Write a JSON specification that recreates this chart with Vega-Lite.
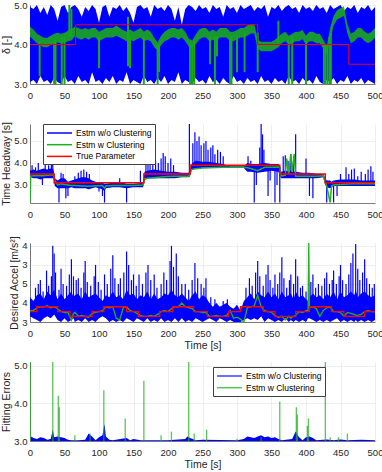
{
"$schema":"https://vega.github.io/schema/vega-lite/v6.json",
"autosize":{"type":"pad"},
"padding":{"left":1,"top":0,"right":0,"bottom":0},
"spacing":40,
"bounds":"flush",
"config":{
 "font":"Liberation Sans",
 "view":{"stroke":null},
 "axis":{"labelFontSize":9.5,"labelColor":"#262626","titleFontSize":10.5,"titleFontWeight":"normal","titleColor":"#262626","gridColor":"#e3e3e3","gridWidth":0.6,"domainColor":"#262626","domainWidth":0.6,"ticks":false,"labelPadding":3,"titlePadding":2,"labelOverlap":false},
 "axisX":{"labelOverlap":false,"labelFlush":false,"tickCount":20},
 "legend":{"orient":"none","title":null,"symbolType":"M-1,0H4","symbolSize":100,"symbolStrokeWidth":1.5,"strokeColor":"#404040","fillColor":"#ffffff","padding":3,"labelFontSize":8.5,"labelColor":"#000000","rowPadding":0.7,"labelOffset":18}
},
"resolve":{"scale":{"stroke":"independent"},"legend":{"stroke":"independent"}},
"datasets":{
"p1":[
{"t":0,"lo":3.05,"hi":4.95,"gl":4.2,"gh":4.45},{"t":5,"lo":3.1,"hi":4.9,"gl":4.12,"gh":4.38},{"t":10,"lo":3.0,"hi":5.0,"gl":4.03,"gh":4.27},{"t":15,"lo":3.2,"hi":4.8,"gl":3.98,"gh":4.22},{"t":20,"lo":3.05,"hi":4.95,"gl":3.93,"gh":4.17},{"t":25,"lo":3.1,"hi":4.75,"gl":3.93,"gh":4.17},{"t":30,"lo":3.0,"hi":5.0,"gl":3.98,"gh":4.22},{"t":35,"lo":3.15,"hi":4.9,"gl":4.03,"gh":4.27},{"t":40,"lo":3.05,"hi":4.6,"gl":4.05,"gh":4.3},{"t":45,"lo":3.0,"hi":4.95,"gl":4.03,"gh":4.27},{"t":50,"lo":3.2,"hi":5.0,"gl":4.05,"gh":4.3},{"t":55,"lo":3.05,"hi":4.8,"gl":4.08,"gh":4.35},{"t":60,"lo":3.1,"hi":4.95,"gl":4.1,"gh":4.4},{"t":65,"lo":3.0,"hi":5.0,"gl":4.2,"gh":4.45},{"t":70,"lo":3.2,"hi":4.9,"gl":4.15,"gh":4.42},{"t":75,"lo":3.05,"hi":4.7,"gl":4.12,"gh":4.38},{"t":80,"lo":3.1,"hi":4.95,"gl":4.18,"gh":4.42},{"t":85,"lo":3.0,"hi":4.85,"gl":4.12,"gh":4.38},{"t":90,"lo":3.3,"hi":5.0,"gl":4.18,"gh":4.42},{"t":95,"lo":3.05,"hi":4.9,"gl":4.18,"gh":4.42},{"t":100,"lo":3.1,"hi":4.55,"gl":4.08,"gh":4.32},{"t":105,"lo":3.0,"hi":4.95,"gl":4.13,"gh":4.37},{"t":110,"lo":3.15,"hi":5.0,"gl":4.18,"gh":4.42},{"t":115,"lo":3.05,"hi":4.7,"gl":4.18,"gh":4.42},{"t":120,"lo":3.2,"hi":4.95,"gl":4.18,"gh":4.42},{"t":125,"lo":3.0,"hi":4.9,"gl":4.22,"gh":4.48},{"t":130,"lo":3.1,"hi":5.0,"gl":4.18,"gh":4.42},{"t":135,"lo":3.05,"hi":4.85,"gl":4.13,"gh":4.37},{"t":140,"lo":3.3,"hi":4.95,"gl":4.08,"gh":4.32},{"t":145,"lo":3.0,"hi":4.8,"gl":4.12,"gh":4.38},{"t":150,"lo":3.1,"hi":4.55,"gl":4.08,"gh":4.32},{"t":155,"lo":3.05,"hi":4.95,"gl":4.13,"gh":4.37},{"t":160,"lo":3.0,"hi":5.0,"gl":4.18,"gh":4.42},{"t":165,"lo":3.2,"hi":4.9,"gl":4.08,"gh":4.32},{"t":170,"lo":3.05,"hi":4.95,"gl":4.12,"gh":4.38},{"t":175,"lo":3.1,"hi":4.7,"gl":4.08,"gh":4.32},{"t":180,"lo":3.0,"hi":5.0,"gl":3.93,"gh":4.17},{"t":185,"lo":3.15,"hi":4.9,"gl":3.85,"gh":4.05},{"t":190,"lo":3.05,"hi":4.95,"gl":3.98,"gh":4.22},{"t":195,"lo":3.2,"hi":4.85,"gl":4.08,"gh":4.32},{"t":200,"lo":3.0,"hi":5.0,"gl":4.12,"gh":4.38},{"t":205,"lo":3.1,"hi":4.9,"gl":4.18,"gh":4.42},{"t":210,"lo":3.05,"hi":4.6,"gl":4.18,"gh":4.42},{"t":215,"lo":3.3,"hi":4.95,"gl":4.12,"gh":4.38},{"t":220,"lo":3.0,"hi":4.5,"gl":4.18,"gh":4.42},{"t":225,"lo":3.1,"hi":4.9,"gl":4.08,"gh":4.32},{"t":230,"lo":3.05,"hi":5.0,"gl":3.95,"gh":4.15},{"t":235,"lo":3.0,"hi":4.95,"gl":3.9,"gh":4.1},{"t":240,"lo":3.15,"hi":4.85,"gl":4.0,"gh":4.25},{"t":245,"lo":3.05,"hi":5.0,"gl":4.12,"gh":4.38},{"t":250,"lo":3.1,"hi":4.9,"gl":4.18,"gh":4.42},{"t":255,"lo":3.0,"hi":4.95,"gl":4.18,"gh":4.42},{"t":260,"lo":3.2,"hi":4.8,"gl":4.08,"gh":4.32},{"t":265,"lo":3.05,"hi":5.0,"gl":4.12,"gh":4.38},{"t":270,"lo":3.1,"hi":4.9,"gl":4.08,"gh":4.32},{"t":275,"lo":3.0,"hi":4.95,"gl":4.18,"gh":4.42},{"t":280,"lo":3.15,"hi":4.7,"gl":4.18,"gh":4.42},{"t":285,"lo":3.05,"hi":5.0,"gl":4.18,"gh":4.42},{"t":290,"lo":3.0,"hi":4.9,"gl":4.08,"gh":4.32},{"t":295,"lo":3.2,"hi":4.95,"gl":4.08,"gh":4.32},{"t":300,"lo":3.05,"hi":4.8,"gl":4.13,"gh":4.37},{"t":305,"lo":3.1,"hi":5.0,"gl":4.18,"gh":4.42},{"t":310,"lo":3.0,"hi":4.9,"gl":4.18,"gh":4.42},{"t":315,"lo":3.15,"hi":4.95,"gl":4.22,"gh":4.48},{"t":320,"lo":3.05,"hi":5.0,"gl":4.28,"gh":4.52},{"t":325,"lo":3.1,"hi":4.85,"gl":4.28,"gh":4.52},{"t":330,"lo":3.0,"hi":4.95,"gl":3.9,"gh":4.12},{"t":335,"lo":3.2,"hi":4.9,"gl":3.83,"gh":4.07},{"t":340,"lo":3.05,"hi":5.0,"gl":3.83,"gh":4.07},{"t":345,"lo":3.1,"hi":4.7,"gl":3.83,"gh":4.07},{"t":350,"lo":3.0,"hi":4.95,"gl":3.83,"gh":4.07},{"t":355,"lo":3.15,"hi":4.9,"gl":3.88,"gh":4.12},{"t":360,"lo":3.05,"hi":5.0,"gl":3.93,"gh":4.2},{"t":365,"lo":3.1,"hi":4.85,"gl":4.03,"gh":4.27},{"t":370,"lo":3.0,"hi":4.95,"gl":4.08,"gh":4.32},{"t":375,"lo":3.2,"hi":5.0,"gl":4.0,"gh":4.22},{"t":380,"lo":3.05,"hi":4.9,"gl":4.03,"gh":4.27},{"t":385,"lo":3.1,"hi":4.95,"gl":4.08,"gh":4.32},{"t":390,"lo":3.0,"hi":4.8,"gl":4.08,"gh":4.32},{"t":395,"lo":3.15,"hi":5.0,"gl":4.13,"gh":4.37},{"t":400,"lo":3.05,"hi":4.9,"gl":4.0,"gh":4.22},{"t":405,"lo":3.1,"hi":4.95,"gl":4.08,"gh":4.32},{"t":410,"lo":3.0,"hi":4.85,"gl":4.08,"gh":4.32},{"t":415,"lo":3.2,"hi":5.0,"gl":4.03,"gh":4.27},{"t":420,"lo":3.05,"hi":4.9,"gl":4.03,"gh":4.27},{"t":425,"lo":3.0,"hi":4.95,"gl":3.9,"gh":4.12},{"t":430,"lo":3.1,"hi":4.8,"gl":3.75,"gh":3.95},{"t":435,"lo":3.05,"hi":5.0,"gl":4.1,"gh":4.42},{"t":440,"lo":3.15,"hi":4.9,"gl":4.48,"gh":4.72},{"t":445,"lo":3.0,"hi":4.95,"gl":4.63,"gh":4.87},{"t":450,"lo":3.1,"hi":5.0,"gl":4.68,"gh":4.92},{"t":455,"lo":3.05,"hi":4.85,"gl":4.73,"gh":4.97},{"t":460,"lo":3.2,"hi":4.95,"gl":4.28,"gh":4.52},{"t":465,"lo":3.0,"hi":4.9,"gl":4.03,"gh":4.27},{"t":470,"lo":3.1,"hi":5.0,"gl":4.08,"gh":4.32},{"t":475,"lo":3.05,"hi":4.8,"gl":4.18,"gh":4.42},{"t":480,"lo":3.15,"hi":4.95,"gl":4.18,"gh":4.42},{"t":485,"lo":3.0,"hi":4.9,"gl":4.08,"gh":4.32},{"t":490,"lo":3.1,"hi":5.0,"gl":4.03,"gh":4.27},{"t":495,"lo":3.05,"hi":4.85,"gl":4.08,"gh":4.32},{"t":500,"lo":3.0,"hi":4.95,"gl":4.18,"gh":4.42}
],
"d1":[{"t":14,"a":3.2,"b":4.1},{"t":35,"a":3.0,"b":4.1},{"t":37,"a":3.0,"b":4.1},{"t":46,"a":3.0,"b":4.2},{"t":50,"a":3.0,"b":4.2},{"t":57,"a":4.2,"b":5.0},{"t":60,"a":4.2,"b":4.9},{"t":100,"a":3.4,"b":4.2},{"t":142,"a":3.45,"b":4.7},{"t":145,"a":3.4,"b":4.2},{"t":165,"a":3.0,"b":4.2},{"t":185,"a":3.0,"b":4.0},{"t":187,"a":3.3,"b":4.0},{"t":232,"a":3.0,"b":4.0},{"t":235,"a":3.0,"b":4.0},{"t":238,"a":3.0,"b":4.1},{"t":261,"a":3.5,"b":4.2},{"t":268,"a":3.0,"b":4.2},{"t":271,"a":3.7,"b":4.2},{"t":290,"a":3.0,"b":4.2},{"t":292,"a":3.0,"b":4.2},{"t":300,"a":3.3,"b":4.2},{"t":311,"a":3.3,"b":4.3},{"t":330,"a":3.3,"b":4.3},{"t":360,"a":4.0,"b":4.6},{"t":375,"a":3.0,"b":4.1},{"t":380,"a":3.0,"b":4.2},{"t":400,"a":3.0,"b":4.1},{"t":426,"a":3.0,"b":4.0},{"t":428,"a":3.0,"b":4.0},{"t":431,"a":3.0,"b":4.0},{"t":434,"a":3.0,"b":4.2},{"t":436,"a":3.0,"b":4.3}],
"r1":[{"t":0,"v":4},{"t":66,"v":4.5},{"t":330,"v":4},{"t":462,"v":3.5},{"t":500,"v":3.5}],
"p2":[
{"t":0,"lo":3.3,"hi":3.7,"g":2.2},{"t":1,"lo":3.35,"hi":3.65,"g":3.4},{"t":5,"lo":3.3,"hi":3.7,"g":3.42},{"t":10,"lo":3.3,"hi":3.65,"g":3.43},{"t":15,"lo":3.25,"hi":3.7,"g":3.42},{"t":20,"lo":3.3,"hi":3.75,"g":3.42},{"t":25,"lo":3.3,"hi":3.7,"g":3.44},{"t":30,"lo":3.3,"hi":3.75,"g":3.45},{"t":34,"lo":3.3,"hi":3.7,"g":3.45},{"t":36,"lo":2.95,"hi":3.3,"g":3.2},{"t":40,"lo":2.85,"hi":3.2,"g":3.0},{"t":45,"lo":2.85,"hi":3.3,"g":3.05},{"t":50,"lo":2.85,"hi":3.3,"g":3.02},{"t":55,"lo":2.85,"hi":3.15,"g":3.0},{"t":60,"lo":2.9,"hi":3.2,"g":2.98},{"t":65,"lo":2.85,"hi":3.25,"g":2.97},{"t":70,"lo":2.85,"hi":3.3,"g":2.96},{"t":75,"lo":2.85,"hi":3.35,"g":2.95},{"t":80,"lo":2.85,"hi":3.35,"g":2.95},{"t":85,"lo":2.8,"hi":3.3,"g":2.94},{"t":90,"lo":2.85,"hi":3.2,"g":2.95},{"t":95,"lo":2.9,"hi":3.15,"g":2.96},{"t":100,"lo":2.85,"hi":3.1,"g":2.96},{"t":105,"lo":2.8,"hi":3.1,"g":2.97},{"t":108,"lo":2.7,"hi":3.05,"g":2.85},{"t":110,"lo":2.85,"hi":3.05,"g":2.95},{"t":120,"lo":2.9,"hi":3.1,"g":2.98},{"t":130,"lo":2.9,"hi":3.15,"g":2.98},{"t":140,"lo":2.85,"hi":3.05,"g":2.97},{"t":150,"lo":2.9,"hi":3.05,"g":2.98},{"t":164,"lo":2.9,"hi":3.1,"g":3.0},{"t":166,"lo":3.3,"hi":3.6,"g":3.25},{"t":170,"lo":3.3,"hi":3.65,"g":3.3},{"t":180,"lo":3.3,"hi":3.7,"g":3.33},{"t":190,"lo":3.3,"hi":3.65,"g":3.36},{"t":200,"lo":3.3,"hi":3.6,"g":3.38},{"t":210,"lo":3.3,"hi":3.6,"g":3.39},{"t":220,"lo":3.35,"hi":3.55,"g":3.4},{"t":230,"lo":3.35,"hi":3.55,"g":3.4},{"t":232,"lo":3.4,"hi":3.7,"g":3.5},{"t":234,"lo":3.7,"hi":3.95,"g":3.7},{"t":240,"lo":3.75,"hi":4.1,"g":3.74},{"t":250,"lo":3.78,"hi":4.05,"g":3.77},{"t":260,"lo":3.78,"hi":4.05,"g":3.78},{"t":270,"lo":3.78,"hi":4.0,"g":3.79},{"t":280,"lo":3.78,"hi":3.95,"g":3.8},{"t":290,"lo":3.78,"hi":3.85,"g":3.8},{"t":310,"lo":3.77,"hi":3.85,"g":3.8},{"t":315,"lo":3.6,"hi":4.0,"g":3.78},{"t":320,"lo":3.6,"hi":3.95,"g":3.75},{"t":330,"lo":3.55,"hi":3.95,"g":3.65},{"t":340,"lo":3.6,"hi":4.0,"g":3.8},{"t":350,"lo":3.65,"hi":3.95,"g":3.8},{"t":360,"lo":3.6,"hi":3.95,"g":3.82},{"t":362,"lo":3.4,"hi":3.9,"g":3.8},{"t":364,"lo":3.3,"hi":3.6,"g":3.4},{"t":370,"lo":3.3,"hi":3.65,"g":3.45},{"t":372,"lo":3.3,"hi":3.65,"g":4.2},{"t":375,"lo":3.3,"hi":3.6,"g":3.5},{"t":378,"lo":3.3,"hi":3.65,"g":4.4},{"t":380,"lo":3.3,"hi":3.6,"g":3.6},{"t":383,"lo":3.3,"hi":3.6,"g":4.4},{"t":385,"lo":3.3,"hi":3.6,"g":3.4},{"t":395,"lo":3.3,"hi":3.55,"g":3.4},{"t":405,"lo":3.3,"hi":3.55,"g":3.4},{"t":415,"lo":3.3,"hi":3.5,"g":3.4},{"t":425,"lo":3.35,"hi":3.5,"g":3.42},{"t":428,"lo":3.0,"hi":3.3,"g":3.1},{"t":430,"lo":2.9,"hi":3.2,"g":2.95},{"t":435,"lo":2.85,"hi":3.2,"g":2.2},{"t":437,"lo":2.9,"hi":3.15,"g":2.95},{"t":440,"lo":2.95,"hi":3.2,"g":3.0},{"t":450,"lo":2.95,"hi":3.25,"g":3.02},{"t":460,"lo":2.95,"hi":3.25,"g":3.04},{"t":470,"lo":2.95,"hi":3.25,"g":3.05},{"t":480,"lo":2.95,"hi":3.2,"g":3.05},{"t":490,"lo":2.95,"hi":3.2,"g":3.05},{"t":500,"lo":2.95,"hi":3.2,"g":3.05}
],
"s2":[{"t":3,"a":3.5,"b":3.9},{"t":8,"a":3.5,"b":3.8},{"t":12,"a":3.5,"b":4.0},{"t":18,"a":3.4,"b":3.0},{"t":22,"a":3.5,"b":4.05},{"t":27,"a":3.5,"b":3.9},{"t":31,"a":3.5,"b":4.0},{"t":33,"a":3.5,"b":5.3},{"t":42,"a":3.0,"b":2.2},{"t":45,"a":3.0,"b":3.55},{"t":48,"a":3.0,"b":3.5},{"t":52,"a":3.0,"b":2.4},{"t":55,"a":3.0,"b":2.5},{"t":65,"a":3.0,"b":3.4},{"t":70,"a":3.0,"b":3.55},{"t":74,"a":3.0,"b":3.65},{"t":78,"a":3.0,"b":3.7},{"t":82,"a":3.0,"b":3.6},{"t":86,"a":3.0,"b":3.5},{"t":100,"a":3.0,"b":2.7},{"t":105,"a":3.0,"b":2.5},{"t":108,"a":3.0,"b":2.2},{"t":130,"a":3.0,"b":3.3},{"t":140,"a":3.0,"b":2.2},{"t":160,"a":3.0,"b":3.65},{"t":168,"a":3.4,"b":4.5},{"t":171,"a":3.4,"b":4.2},{"t":174,"a":3.4,"b":4.3},{"t":178,"a":3.4,"b":4.4},{"t":182,"a":3.4,"b":4.1},{"t":186,"a":3.4,"b":4.0},{"t":190,"a":3.4,"b":4.2},{"t":193,"a":3.4,"b":4.45},{"t":196,"a":3.4,"b":4.3},{"t":200,"a":3.4,"b":4.0},{"t":204,"a":3.4,"b":4.2},{"t":208,"a":3.4,"b":3.9},{"t":231,"a":3.5,"b":5.8},{"t":236,"a":3.85,"b":4.9},{"t":239,"a":3.85,"b":5.4},{"t":242,"a":3.85,"b":5.0},{"t":245,"a":3.85,"b":5.2},{"t":248,"a":3.85,"b":4.8},{"t":252,"a":3.85,"b":4.9},{"t":255,"a":3.85,"b":5.0},{"t":258,"a":3.85,"b":4.6},{"t":262,"a":3.85,"b":4.7},{"t":265,"a":3.85,"b":4.8},{"t":268,"a":3.85,"b":4.4},{"t":272,"a":3.85,"b":4.6},{"t":276,"a":3.85,"b":4.5},{"t":280,"a":3.85,"b":4.3},{"t":316,"a":3.8,"b":4.3},{"t":320,"a":3.8,"b":4.1},{"t":325,"a":3.8,"b":2.2},{"t":328,"a":3.8,"b":3.0},{"t":333,"a":3.8,"b":4.7},{"t":335,"a":3.8,"b":5.8},{"t":337,"a":3.8,"b":5.3},{"t":339,"a":3.8,"b":4.6},{"t":345,"a":3.8,"b":2.5},{"t":348,"a":3.8,"b":3.2},{"t":355,"a":3.8,"b":2.2},{"t":358,"a":3.8,"b":3.0},{"t":362,"a":3.8,"b":2.2},{"t":367,"a":3.4,"b":4.3},{"t":370,"a":3.4,"b":4.35},{"t":374,"a":3.4,"b":4.1},{"t":378,"a":3.4,"b":4.4},{"t":382,"a":3.4,"b":4.3},{"t":385,"a":3.4,"b":5.3},{"t":400,"a":3.4,"b":4.2},{"t":405,"a":3.4,"b":2.5},{"t":410,"a":3.4,"b":2.4},{"t":430,"a":3.0,"b":2.2},{"t":440,"a":3.0,"b":2.2},{"t":445,"a":3.0,"b":2.5},{"t":450,"a":3.0,"b":3.5},{"t":458,"a":3.05,"b":3.8},{"t":462,"a":3.05,"b":3.5},{"t":466,"a":3.05,"b":3.7},{"t":470,"a":3.05,"b":3.75},{"t":475,"a":3.05,"b":3.4},{"t":480,"a":3.05,"b":3.6},{"t":486,"a":3.05,"b":3.5},{"t":490,"a":3.05,"b":3.7},{"t":494,"a":3.05,"b":3.85},{"t":497,"a":3.05,"b":3.6}],
"r2":[{"t":0,"v":3.5},{"t":35,"v":3.1},{"t":165,"v":3.5},{"t":232,"v":3.9},{"t":362,"v":3.5},{"t":428,"v":3.1},{"t":500,"v":3.1}],
"p3":[
{"t":0,"lo":0.3,"hi":1.3,"g":0.6},{"t":5,"lo":0.2,"hi":1.1,"g":0.6},{"t":10,"lo":0.1,"hi":1.4,"g":0.75},{"t":15,"lo":0.0,"hi":1.5,"g":0.8},{"t":20,"lo":0.2,"hi":1.2,"g":0.8},{"t":25,"lo":0.3,"hi":1.6,"g":0.85},{"t":30,"lo":0.2,"hi":1.4,"g":0.75},{"t":35,"lo":0.4,"hi":1.7,"g":0.8},{"t":40,"lo":0.1,"hi":1.2,"g":0.7},{"t":45,"lo":0.0,"hi":1.5,"g":0.55},{"t":50,"lo":0.2,"hi":1.2,"g":0.5},{"t":55,"lo":0.0,"hi":1.4,"g":0.5},{"t":60,"lo":0.1,"hi":1.6,"g":0.1},{"t":63,"lo":0.2,"hi":1.3,"g":0.45},{"t":65,"lo":0.0,"hi":1.4,"g":0.5},{"t":70,"lo":0.1,"hi":1.5,"g":0.3},{"t":75,"lo":0.0,"hi":1.2,"g":0.35},{"t":80,"lo":0.2,"hi":1.6,"g":0.3},{"t":85,"lo":0.0,"hi":1.3,"g":0.25},{"t":90,"lo":0.1,"hi":1.4,"g":0.45},{"t":95,"lo":0.0,"hi":1.5,"g":0.5},{"t":100,"lo":0.2,"hi":1.3,"g":0.55},{"t":105,"lo":0.3,"hi":1.1,"g":0.6},{"t":110,"lo":0.2,"hi":1.4,"g":0.8},{"t":115,"lo":0.0,"hi":1.3,"g":0.75},{"t":120,"lo":0.1,"hi":1.6,"g":0.8},{"t":125,"lo":0.0,"hi":1.3,"g":0.2},{"t":130,"lo":0.1,"hi":1.4,"g":0.1},{"t":135,"lo":0.0,"hi":1.2,"g":0.75},{"t":140,"lo":0.2,"hi":1.7,"g":0.8},{"t":145,"lo":0.1,"hi":1.4,"g":0.6},{"t":150,"lo":0.0,"hi":1.5,"g":0.55},{"t":155,"lo":0.2,"hi":1.2,"g":0.45},{"t":160,"lo":0.1,"hi":1.4,"g":0.35},{"t":165,"lo":0.0,"hi":1.3,"g":0.3},{"t":170,"lo":0.2,"hi":1.6,"g":0.3},{"t":175,"lo":0.0,"hi":1.2,"g":0.35},{"t":180,"lo":0.1,"hi":1.5,"g":0.3},{"t":185,"lo":0.0,"hi":1.2,"g":0.4},{"t":190,"lo":0.2,"hi":1.3,"g":0.55},{"t":195,"lo":0.0,"hi":1.5,"g":0.6},{"t":200,"lo":0.1,"hi":1.4,"g":0.55},{"t":205,"lo":0.0,"hi":1.7,"g":0.7},{"t":210,"lo":0.2,"hi":1.4,"g":0.8},{"t":215,"lo":0.0,"hi":1.3,"g":0.8},{"t":220,"lo":0.2,"hi":1.5,"g":1.0},{"t":225,"lo":0.0,"hi":1.3,"g":0.8},{"t":230,"lo":0.1,"hi":1.1,"g":0.75},{"t":235,"lo":0.0,"hi":1.4,"g":0.7},{"t":240,"lo":0.2,"hi":1.6,"g":0.55},{"t":245,"lo":0.1,"hi":1.2,"g":0.55},{"t":250,"lo":0.0,"hi":1.4,"g":0.5},{"t":255,"lo":0.1,"hi":1.3,"g":0.5},{"t":260,"lo":0.2,"hi":1.0,"g":0.3},{"t":265,"lo":0.1,"hi":0.8,"g":0.3},{"t":270,"lo":0.0,"hi":1.0,"g":0.35},{"t":275,"lo":0.2,"hi":0.8,"g":0.3},{"t":280,"lo":0.1,"hi":0.9,"g":0.3},{"t":285,"lo":0.0,"hi":1.0,"g":0.35},{"t":290,"lo":0.1,"hi":0.8,"g":0.6},{"t":295,"lo":0.0,"hi":0.7,"g":0.2},{"t":300,"lo":0.0,"hi":0.9,"g":0.25},{"t":305,"lo":0.0,"hi":0.6,"g":0.15},{"t":310,"lo":0.1,"hi":1.1,"g":0.0},{"t":315,"lo":0.2,"hi":1.3,"g":0.75},{"t":320,"lo":0.1,"hi":1.5,"g":0.8},{"t":325,"lo":0.2,"hi":1.2,"g":0.85},{"t":330,"lo":0.1,"hi":1.6,"g":1.4},{"t":335,"lo":0.3,"hi":1.4,"g":0.8},{"t":340,"lo":0.0,"hi":1.3,"g":0.6},{"t":345,"lo":0.2,"hi":1.6,"g":0.55},{"t":350,"lo":0.1,"hi":1.3,"g":0.5},{"t":355,"lo":0.0,"hi":1.5,"g":0.35},{"t":360,"lo":0.1,"hi":1.2,"g":0.25},{"t":365,"lo":0.0,"hi":1.6,"g":0.3},{"t":370,"lo":0.2,"hi":1.3,"g":0.1},{"t":375,"lo":0.0,"hi":1.4,"g":0.3},{"t":378,"lo":0.1,"hi":1.5,"g":0.2},{"t":382,"lo":0.0,"hi":1.2,"g":0.3},{"t":385,"lo":0.1,"hi":1.6,"g":0.35},{"t":390,"lo":0.0,"hi":1.3,"g":0.55},{"t":395,"lo":0.1,"hi":1.4,"g":0.5},{"t":400,"lo":0.0,"hi":1.2,"g":0.6},{"t":403,"lo":0.2,"hi":1.1,"g":0.6},{"t":404,"lo":0.2,"hi":1.2,"g":4.15},{"t":405,"lo":0.2,"hi":1.3,"g":0.75},{"t":410,"lo":0.1,"hi":1.5,"g":0.8},{"t":415,"lo":0.0,"hi":1.3,"g":0.7},{"t":420,"lo":0.1,"hi":1.4,"g":0.3},{"t":425,"lo":0.0,"hi":1.2,"g":0.6},{"t":430,"lo":0.1,"hi":1.5,"g":0.75},{"t":435,"lo":0.0,"hi":1.3,"g":0.8},{"t":440,"lo":0.1,"hi":1.6,"g":0.55},{"t":445,"lo":0.2,"hi":1.2,"g":0.55},{"t":450,"lo":0.0,"hi":1.6,"g":0.5},{"t":455,"lo":0.1,"hi":1.3,"g":0.3},{"t":460,"lo":0.0,"hi":1.4,"g":0.5},{"t":465,"lo":0.1,"hi":1.6,"g":0.45},{"t":470,"lo":0.0,"hi":1.4,"g":0.4},{"t":472,"lo":0.1,"hi":1.7,"g":0.35},{"t":475,"lo":0.0,"hi":1.3,"g":0.35},{"t":480,"lo":0.1,"hi":1.5,"g":0.4},{"t":485,"lo":0.0,"hi":1.6,"g":0.55},{"t":490,"lo":0.1,"hi":1.4,"g":0.6},{"t":495,"lo":0.0,"hi":1.3,"g":0.55},{"t":500,"lo":0.1,"hi":1.4,"g":0.55}
],
"s3":[{"t":8,"v":1.8},{"t":12,"v":2.0},{"t":15,"v":2.2},{"t":19,"v":1.6},{"t":24,"v":2.7},{"t":27,"v":1.9},{"t":31,"v":2.4},{"t":33,"v":4.0},{"t":35,"v":3.6},{"t":37,"v":2.6},{"t":42,"v":1.7},{"t":45,"v":2.8},{"t":48,"v":2.0},{"t":53,"v":1.9},{"t":57,"v":2.5},{"t":60,"v":3.3},{"t":63,"v":2.4},{"t":67,"v":2.2},{"t":70,"v":2.3},{"t":74,"v":1.8},{"t":78,"v":2.6},{"t":80,"v":3.2},{"t":83,"v":2.1},{"t":88,"v":1.9},{"t":93,"v":2.4},{"t":95,"v":3.0},{"t":99,"v":2.1},{"t":103,"v":1.7},{"t":108,"v":2.5},{"t":112,"v":2.0},{"t":117,"v":2.8},{"t":120,"v":3.5},{"t":123,"v":2.3},{"t":128,"v":2.0},{"t":131,"v":2.3},{"t":136,"v":2.6},{"t":140,"v":3.7},{"t":143,"v":3.0},{"t":147,"v":2.2},{"t":150,"v":2.5},{"t":154,"v":1.9},{"t":158,"v":2.5},{"t":163,"v":2.0},{"t":168,"v":2.6},{"t":171,"v":3.0},{"t":175,"v":2.2},{"t":180,"v":2.5},{"t":184,"v":1.8},{"t":190,"v":2.0},{"t":194,"v":2.6},{"t":198,"v":2.2},{"t":203,"v":3.2},{"t":205,"v":4.0},{"t":208,"v":2.9},{"t":212,"v":3.6},{"t":215,"v":2.4},{"t":220,"v":2.0},{"t":225,"v":2.0},{"t":230,"v":1.7},{"t":235,"v":2.2},{"t":239,"v":3.1},{"t":243,"v":2.3},{"t":248,"v":2.0},{"t":252,"v":1.8},{"t":255,"v":2.3},{"t":262,"v":1.3},{"t":268,"v":1.2},{"t":280,"v":1.1},{"t":286,"v":1.2},{"t":313,"v":1.8},{"t":318,"v":2.3},{"t":322,"v":1.9},{"t":327,"v":2.6},{"t":330,"v":3.2},{"t":333,"v":2.4},{"t":338,"v":1.9},{"t":342,"v":2.5},{"t":345,"v":3.0},{"t":348,"v":2.2},{"t":352,"v":1.8},{"t":355,"v":2.5},{"t":359,"v":2.0},{"t":362,"v":2.6},{"t":365,"v":3.4},{"t":368,"v":2.3},{"t":372,"v":1.8},{"t":376,"v":2.2},{"t":378,"v":2.5},{"t":382,"v":2.0},{"t":385,"v":3.3},{"t":388,"v":2.4},{"t":392,"v":1.8},{"t":395,"v":1.9},{"t":400,"v":1.6},{"t":407,"v":2.1},{"t":410,"v":2.5},{"t":414,"v":1.8},{"t":418,"v":2.0},{"t":423,"v":1.9},{"t":427,"v":2.3},{"t":430,"v":2.6},{"t":434,"v":2.0},{"t":438,"v":2.2},{"t":440,"v":2.7},{"t":444,"v":2.0},{"t":448,"v":2.4},{"t":450,"v":3.0},{"t":453,"v":2.2},{"t":458,"v":2.0},{"t":462,"v":2.5},{"t":465,"v":3.1},{"t":468,"v":3.6},{"t":472,"v":4.1},{"t":475,"v":2.8},{"t":478,"v":2.2},{"t":482,"v":2.6},{"t":485,"v":3.3},{"t":488,"v":2.3},{"t":492,"v":2.0},{"t":496,"v":1.8},{"t":499,"v":2.0}],
"r3":[{"t":0,"v":0.55},{"t":10,"v":0.8},{"t":40,"v":0.55},{"t":58,"v":0.3},{"t":90,"v":0.55},{"t":107,"v":0.8},{"t":140,"v":0.55},{"t":157,"v":0.3},{"t":188,"v":0.55},{"t":207,"v":0.8},{"t":237,"v":0.55},{"t":257,"v":0.3},{"t":288,"v":0.55},{"t":305,"v":0.8},{"t":338,"v":0.55},{"t":355,"v":0.3},{"t":385,"v":0.55},{"t":405,"v":0.8},{"t":437,"v":0.55},{"t":455,"v":0.3},{"t":485,"v":0.55},{"t":500,"v":0.55}],
"p4":[{"t":0,"v":3.0},{"t":2,"v":3.12},{"t":5,"v":3.08},{"t":10,"v":3.05},{"t":15,"v":3.1},{"t":20,"v":3.08},{"t":25,"v":3.03},{"t":30,"v":3.05},{"t":33,"v":3.3},{"t":35,"v":3.1},{"t":40,"v":3.12},{"t":45,"v":3.1},{"t":50,"v":3.08},{"t":55,"v":3.03},{"t":60,"v":3.02},{"t":70,"v":3.02},{"t":80,"v":3.03},{"t":85,"v":3.2},{"t":90,"v":3.12},{"t":95,"v":3.02},{"t":100,"v":3.1},{"t":105,"v":3.15},{"t":108,"v":3.45},{"t":110,"v":3.12},{"t":115,"v":3.03},{"t":120,"v":3.02},{"t":140,"v":3.08},{"t":145,"v":3.02},{"t":150,"v":3.05},{"t":160,"v":3.02},{"t":200,"v":3.02},{"t":225,"v":3.05},{"t":228,"v":3.12},{"t":232,"v":3.08},{"t":240,"v":3.02},{"t":250,"v":3.03},{"t":300,"v":3.02},{"t":310,"v":3.05},{"t":315,"v":3.12},{"t":320,"v":3.1},{"t":325,"v":3.08},{"t":330,"v":3.12},{"t":335,"v":3.15},{"t":340,"v":3.1},{"t":345,"v":3.12},{"t":350,"v":3.08},{"t":355,"v":3.1},{"t":360,"v":3.05},{"t":365,"v":3.02},{"t":380,"v":3.05},{"t":385,"v":3.25},{"t":390,"v":3.1},{"t":395,"v":3.02},{"t":400,"v":3.1},{"t":405,"v":3.12},{"t":410,"v":3.08},{"t":415,"v":3.02},{"t":430,"v":3.04},{"t":440,"v":3.02},{"t":450,"v":3.04},{"t":460,"v":3.02},{"t":480,"v":3.03},{"t":500,"v":3.02}],
"g4":[{"t":0.5,"v":5.1},{"t":33,"v":5.1},{"t":41,"v":4.2},{"t":42.5,"v":3.9},{"t":65,"v":3.15},{"t":87,"v":3.2},{"t":107,"v":4.35},{"t":138,"v":3.6},{"t":165,"v":4.6},{"t":190,"v":3.15},{"t":205,"v":3.25},{"t":230,"v":5.1},{"t":238,"v":3.2},{"t":256,"v":3.3},{"t":300,"v":3.05},{"t":335,"v":3.1},{"t":362,"v":4.05},{"t":386,"v":3.9},{"t":387.5,"v":3.7},{"t":402,"v":3.4},{"t":403.5,"v":3.6},{"t":428,"v":5.1},{"t":435,"v":3.1},{"t":447,"v":3.1},{"t":460,"v":3.2}]
},
"vconcat":[
{"width":345,"height":79,
 "layer":[
  {"data":{"name":"p1"},"mark":{"type":"area","color":"#0000ff","clip":true},
   "encoding":{"x":{"field":"t","type":"quantitative","scale":{"domain":[0,500],"nice":false},"axis":{"values":[0,50,100,150,200,250,300,350,400,450,500],"tickCount":20,"title":null,"labelPadding":6,"labelOverlap":false,"labelFlush":false}},
   "y":{"field":"lo","type":"quantitative","scale":{"domain":[3,5],"nice":false,"zero":false},"axis":{"values":[3,4,5],"tickCount":10,"title":"δ [-]"}},"y2":{"field":"hi"}}},
  {"data":{"name":"p1"},"mark":{"type":"area","color":"#1aa81a","opacity":0.9,"clip":true},
   "encoding":{"x":{"field":"t","type":"quantitative"},"y":{"field":"gl","type":"quantitative"},"y2":{"field":"gh"}}},
  {"data":{"name":"d1"},"mark":{"type":"rule","color":"#1aa81a","strokeWidth":2,"clip":true},
   "encoding":{"x":{"field":"t","type":"quantitative"},"y":{"field":"a","type":"quantitative"},"y2":{"field":"b"}}},
  {"data":{"name":"r1"},"mark":{"type":"line","interpolate":"step-after","strokeWidth":1,"clip":true},
   "encoding":{"x":{"field":"t","type":"quantitative"},"y":{"field":"v","type":"quantitative"},
   "stroke":{"datum":"True Parameter","scale":{"domain":["True Parameter"],"range":["#e8001c"]},"legend":null}}}
 ]},
{"width":345,"height":79,
 "layer":[
  {"data":{"name":"p2"},"mark":{"type":"area","color":"#0000ff","clip":true},
   "encoding":{"x":{"field":"t","type":"quantitative","scale":{"domain":[0,500],"nice":false},"axis":{"values":[0,50,100,150,200,250,300,350,400,450,500],"tickCount":20,"title":null,"labelPadding":6,"labelOverlap":false,"labelFlush":false}},
   "y":{"field":"lo","type":"quantitative","scale":{"domain":[2.18,5.77],"nice":false,"zero":false},"axis":{"values":[3,4,5],"tickCount":10,"title":"Time Headway [s]"}},"y2":{"field":"hi"}}},
  {"data":{"name":"s2"},"mark":{"type":"rule","color":"#0000ff","strokeWidth":1.2,"clip":true},
   "encoding":{"x":{"field":"t","type":"quantitative"},"y":{"field":"a","type":"quantitative"},"y2":{"field":"b"}}},
  {"data":{"name":"p2"},"mark":{"type":"line","strokeWidth":1.5,"clip":true},
   "encoding":{"x":{"field":"t","type":"quantitative"},"y":{"field":"g","type":"quantitative"},
   "stroke":{"datum":"Estm w Clustering","scale":{"domain":["Estm w/o Clustering","Estm w Clustering","True Parameter"],"range":["#0000ff","#22b022","#ff0000"]},
    "legend":{"legendX":13,"legendY":0}}}},
  {"data":{"name":"r2"},"mark":{"type":"line","interpolate":"step-after","strokeWidth":1.5,"clip":true},
   "encoding":{"x":{"field":"t","type":"quantitative"},"y":{"field":"v","type":"quantitative"},"stroke":{"datum":"True Parameter"}}}
 ]},
{"width":345,"height":79,
 "layer":[
  {"data":{"name":"p3"},"mark":{"type":"area","color":"#0000ff","clip":true},
   "encoding":{"x":{"field":"t","type":"quantitative","scale":{"domain":[0,500],"nice":false},"axis":{"values":[0,50,100,150,200,250,300,350,400,450,500],"tickCount":20,"title":"Time [s]","labelPadding":6,"titlePadding":3,"labelOverlap":false,"labelFlush":false}},
   "y":{"field":"lo","type":"quantitative","scale":{"domain":[0,4.15],"nice":false,"zero":false},"axis":{"values":[0,1,2,3,4],"tickCount":10,"labelExpr":"datum.value == 0 ? '3' : datum.value == 1 ? '4' : datum.value == 2 ? '5' : datum.value == 3 ? '3' : '4'","title":"Desired Accel [m/s²]"}},"y2":{"field":"hi"}}},
  {"data":{"name":"s3"},"mark":{"type":"rule","color":"#0000ff","strokeWidth":1.2,"clip":true},
   "encoding":{"x":{"field":"t","type":"quantitative"},"y":{"field":"v","type":"quantitative"},"y2":{"datum":0.8}}},
  {"data":{"name":"p3"},"mark":{"type":"line","strokeWidth":1.3,"clip":true},
   "encoding":{"x":{"field":"t","type":"quantitative"},"y":{"field":"g","type":"quantitative"},
   "stroke":{"datum":"Estm w Clustering","scale":{"domain":["Estm w Clustering","True Parameter"],"range":["#22b022","#ff0000"]},"legend":null}}},
  {"data":{"name":"r3"},"mark":{"type":"line","interpolate":"step-after","strokeWidth":1.3,"clip":true},
   "encoding":{"x":{"field":"t","type":"quantitative"},"y":{"field":"v","type":"quantitative"},"stroke":{"datum":"True Parameter"}}}
 ]},
{"width":345,"height":79,
 "layer":[
  {"data":{"name":"p4"},"mark":{"type":"area","color":"#0000ff","clip":true},
   "encoding":{"x":{"field":"t","type":"quantitative","scale":{"domain":[0,500],"nice":false},"axis":{"values":[0,50,100,150,200,250,300,350,400,450,500],"tickCount":20,"title":"Time [s]","labelPadding":6,"titlePadding":3,"labelOverlap":false,"labelFlush":false}},
   "y":{"field":"v","type":"quantitative","scale":{"domain":[3,5.1],"nice":false,"zero":false},"axis":{"values":[3,4,5],"tickCount":10,"title":"Fitting Errors"}},"y2":{"datum":3}}},
  {"data":{"name":"g4"},"mark":{"type":"rule","strokeWidth":1.3,"opacity":0.75,"clip":true},
   "encoding":{"x":{"field":"t","type":"quantitative"},"y":{"field":"v","type":"quantitative"},"y2":{"datum":3},
   "stroke":{"datum":"Estm w Clustering","scale":{"domain":["Estm w/o Clustering","Estm w Clustering"],"range":["#0000ff","#22b022"]},
    "legend":{"legendX":183,"legendY":5}}}}
 ]}
]
}
